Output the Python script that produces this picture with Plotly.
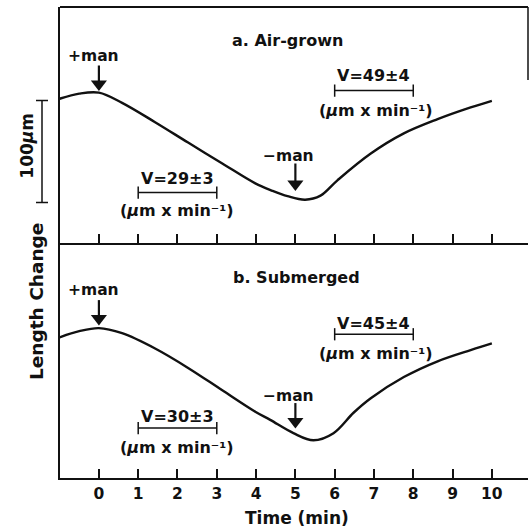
import plotly.graph_objects as go

# ---- data ----
time_air = [-1.0, -0.5, 0.0, 0.59, 1.43, 2.27, 3.14, 3.98, 4.4, 4.8, 5.25, 5.64, 6.07, 6.91, 7.76, 8.62, 9.46, 10.0]
len_air = [141, 146, 147, 137, 118, 98, 77.5, 58, 51, 45.5, 42, 46, 61, 87, 107, 121, 132.5, 139]

time_sub = [-1.0, -0.5, 0.0, 0.59, 1.43, 2.27, 3.14, 3.98, 4.36, 4.95, 5.46, 5.97, 6.48, 6.91, 7.76, 8.62, 9.46, 10.0]
len_sub = [138, 144, 147, 142, 127, 108, 86, 65, 57, 44, 37, 44, 64, 78, 99, 114.5, 125.5, 132]

tick_vals = [0, 1, 2, 3, 4, 5, 6, 7, 8, 9, 10]
tick_text = ["0", "1", "2", "3", "4", "5", "6", "7", "8", "9", "10"]

panel_titles = ["a. Air-grown", "b. Submerged"]
rate_air = ["V=29±3", "V=49±4"]
rate_sub = ["V=30±3", "V=45±4"]
rate_spans = [(1, 3), (6, 8)]
unit_text = "(<i>µ</i>m x min⁻¹)"

# treatment arrows: time, tip, tail (µm)
arrow_t = [0, 5]
arrow_air_tip = [149, 51]
arrow_air_tail = [173.5, 77.5]
arrow_sub_tip = [150, 49]
arrow_sub_tail = [174.5, 73.5]

FONT = "DejaVu Sans"
BLACK = "#111111"

fig = go.Figure()
fig.add_trace(go.Scatter(x=time_sub, y=len_sub, mode="lines", xaxis="x", yaxis="y",
                         line=dict(color=BLACK, width=2.4, shape="spline", smoothing=1.0),
                         showlegend=False, hoverinfo="skip"))
fig.add_trace(go.Scatter(x=time_air, y=len_air, mode="lines", xaxis="x2", yaxis="y2",
                         line=dict(color=BLACK, width=2.4, shape="spline", smoothing=1.0),
                         showlegend=False, hoverinfo="skip"))

HEAD = 6.5  # µm between head centre and tip
def add_arrows(tips, tails, xa, ya):
    for t, tip, tail in zip(arrow_t, tips, tails):
        fig.add_trace(go.Scatter(x=[t, t], y=[tail, tip + HEAD], mode="lines", xaxis=xa, yaxis=ya,
                                 line=dict(color=BLACK, width=2.2), showlegend=False, hoverinfo="skip"))
        fig.add_trace(go.Scatter(x=[t], y=[tip + HEAD], mode="markers", xaxis=xa, yaxis=ya,
                                 marker=dict(symbol="triangle-down", size=14, color=BLACK,
                                             line=dict(width=0)),
                                 showlegend=False, hoverinfo="skip"))

add_arrows(arrow_air_tip, arrow_air_tail, "x2", "y2")
add_arrows(arrow_sub_tip, arrow_sub_tail, "x", "y")

xr = [-0.99, 10.92]
yr = [0, 231]
axis_common = dict(range=xr, showgrid=False, zeroline=False, showline=True, linecolor=BLACK,
                   linewidth=2, ticks="inside", ticklen=9, tickwidth=1.5, tickcolor=BLACK,
                   tickvals=tick_vals, fixedrange=True)
fig.update_layout(
    width=530, height=531,
    margin=dict(l=60, r=2, t=7, b=53),
    paper_bgcolor="white", plot_bgcolor="white",
    xaxis=dict(**axis_common, domain=[0, 1], anchor="y", ticktext=tick_text,
               tickfont=dict(family=FONT, size=15.5, color=BLACK, weight="bold")),
    xaxis2=dict(**axis_common, domain=[0, 1], anchor="y2", showticklabels=False),
    yaxis=dict(domain=[0, 0.5], range=yr, showgrid=False, zeroline=False, showline=True,
               linecolor=BLACK, linewidth=2, showticklabels=False, ticks="", fixedrange=True),
    yaxis2=dict(domain=[0.5, 1], range=yr, showgrid=False, zeroline=False, showline=True,
                linecolor=BLACK, linewidth=2, showticklabels=False, ticks="", fixedrange=True),
)

shapes = []
# top and partial right border
shapes.append(dict(type="line", xref="paper", yref="paper", x0=0, x1=1, y0=1, y1=1,
                   line=dict(color=BLACK, width=2)))
shapes.append(dict(type="line", xref="paper", yref="paper", x0=1, x1=1, y0=0.845, y1=1,
                   line=dict(color=BLACK, width=1.5)))

ann = []
def txt(x, y, t, xref, yref, size=16, **kw):
    ann.append(dict(x=x, y=y, text=t, xref=xref, yref=yref, showarrow=False,
                    font=dict(family=FONT, size=size, color=BLACK, weight="bold"),
                    xanchor="center", yanchor="middle", **kw))

def bracket(x0, x1, y, xref, yref):
    shapes.append(dict(type="line", xref=xref, yref=yref, x0=x0, x1=x1, y0=y, y1=y,
                       line=dict(color=BLACK, width=1.5)))
    for xx in (x0, x1):
        shapes.append(dict(type="line", xref=xref, yref=yref, x0=xx, x1=xx, y0=y - 6, y1=y + 6,
                           line=dict(color=BLACK, width=1.5)))

# panel a (top)
txt(4.81, 198, panel_titles[0], "x2", "y2")
txt(-0.13, 183, "+man", "x2", "y2", size=15.5)
txt(4.83, 85, "−man", "x2", "y2", size=15.5)
txt(2.0, 62.7, rate_air[0], "x2", "y2")
bracket(rate_spans[0][0], rate_spans[0][1], 49, "x2", "y2")
txt(2.0, 31.4, unit_text, "x2", "y2")
txt(7.0, 164, rate_air[1], "x2", "y2")
bracket(rate_spans[1][0], rate_spans[1][1], 149, "x2", "y2")
txt(7.05, 129.4, unit_text, "x2", "y2")

# panel b (bottom)
txt(5.04, 197, panel_titles[1], "x", "y")
txt(-0.13, 184, "+man", "x", "y", size=15.5)
txt(4.83, 80, "−man", "x", "y", size=15.5)
txt(2.0, 60, rate_sub[0], "x", "y")
bracket(rate_spans[0][0], rate_spans[0][1], 49, "x", "y")
txt(2.0, 30, unit_text, "x", "y")
txt(7.0, 152, rate_sub[1], "x", "y")
bracket(rate_spans[1][0], rate_spans[1][1], 141, "x", "y")
txt(7.05, 122.5, unit_text, "x", "y")

# scale bar (100 µm)
sx = -18 / 468
shapes.append(dict(type="line", xref="paper", yref="y2", x0=sx, x1=sx, y0=39.2, y1=139.2,
                   line=dict(color=BLACK, width=1.5)))
for yy in (39.2, 139.2):
    shapes.append(dict(type="line", xref="paper", yref="y2", x0=sx - 6 / 468, x1=sx + 6 / 468,
                       y0=yy, y1=yy, line=dict(color=BLACK, width=1.5)))
txt(-33 / 468, 95, "100<i>µ</i>m", "paper", "y2", size=17, textangle=-90)

# axis titles
txt(-24 / 468, (478 - 302) / 471, "Length Change", "paper", "paper", size=18.5, textangle=-90)
txt((297 - 60) / 468, (478 - 518) / 471, "Time (min)", "paper", "paper", size=17)

fig.update_layout(shapes=shapes, annotations=ann)
fig.write_html("out.html")
